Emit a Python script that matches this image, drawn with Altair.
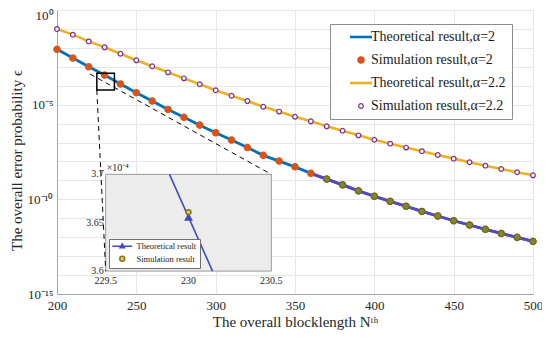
import math
import altair as alt
import pandas as pd

# ---------------- data ----------------
N_VALUES = [200, 210, 220, 230, 240, 250, 260, 270, 280, 290, 300, 310, 320, 330, 340,
            350, 360, 370, 380, 390, 400, 410, 420, 430, 440, 450, 460, 470, 480, 490, 500]

EPS_THEORY_A2 = [8.4e-3, 2.9e-3, 1.0e-3, 3.66e-4, 1.23e-4, 4.3e-5, 1.55e-5, 5.6e-6, 2.14e-6,
                 8.3e-7, 3.3e-7, 1.35e-7, 5.4e-8, 2.1e-8, 1.05e-8, 5.2e-9, 2.35e-9, 1.17e-9,
                 5.8e-10, 2.8e-10, 1.45e-10, 7.8e-11, 4.3e-11, 2.3e-11, 1.32e-11, 7.4e-12,
                 4.4e-12, 2.6e-12, 1.58e-12, 9.8e-13, 6.0e-13]
EPS_SIM_A2 = [8.4e-3, 2.9e-3, 1.0e-3, 3.66e-4, 1.23e-4, 4.3e-5, 1.55e-5, 5.6e-6, 2.14e-6,
              8.3e-7, 3.3e-7, 1.35e-7, 5.4e-8, 2.1e-8, 1.05e-8, 5.2e-9, 2.35e-9, 1.17e-9,
              5.8e-10, 2.8e-10, 1.45e-10, 7.8e-11, 4.3e-11, 2.3e-11, 1.32e-11, 7.4e-12,
              4.4e-12, 2.6e-12, 1.58e-12, 9.8e-13, 6.0e-13]
EPS_THEORY_A22 = [1.0e-1, 5.0e-2, 2.2e-2, 1.07e-2, 4.9e-3, 2.2e-3, 1.07e-3, 5.1e-4, 2.45e-4,
                  1.2e-4, 5.75e-5, 2.95e-5, 1.55e-5, 7.8e-6, 4.3e-6, 2.3e-6, 1.32e-6, 7.2e-7,
                  4.2e-7, 2.4e-7, 1.41e-7, 8.7e-8, 5.4e-8, 3.5e-8, 2.2e-8, 1.41e-8, 9.1e-9,
                  6.0e-9, 4.0e-9, 2.7e-9, 1.86e-9]
EPS_SIM_A22 = [1.0e-1, 5.0e-2, 2.2e-2, 1.07e-2, 4.9e-3, 2.2e-3, 1.07e-3, 5.1e-4, 2.45e-4,
               1.2e-4, 5.75e-5, 2.95e-5, 1.55e-5, 7.8e-6, 4.3e-6, 2.3e-6, 1.32e-6, 7.2e-7,
               4.2e-7, 2.4e-7, 1.41e-7, 8.7e-8, 5.4e-8, 3.5e-8, 2.2e-8, 1.41e-8, 9.1e-9,
               6.0e-9, 4.0e-9, 2.7e-9, 1.86e-9]

SERIES = ["Theoretical result,α=2", "Simulation result,α=2",
          "Theoretical result,α=2.2", "Simulation result,α=2.2"]
LEGEND_TAIL = "\u00a0" * 4   # blank room at the right end of the legend box

# lower curve is redrawn with other colours from these N on
TAIL_LINE_FROM = 360
TAIL_MARK_FROM = 370

X_TICKS = [200, 250, 300, 350, 400, 450, 500]
Y_TICKS = [1e0, 1e-1, 1e-2, 1e-3, 1e-4, 1e-5, 1e-6, 1e-7, 1e-8, 1e-9, 1e-10,
           1e-11, 1e-12, 1e-13, 1e-14, 1e-15]

# zoom rectangle on the main plot (data coordinates)
ZOOM_N = [225.1, 236.2]
ZOOM_EPS = [4.6e-4, 5.9e-5]

# inset placement (main-plot data coordinates of its frame)
INSET_N = [230.7, 335.1]
INSET_EPS = [2.09e-9, 1.62e-14]   # top, bottom
INSET_XDOM = [229.5, 230.5]
INSET_YDOM = [3.6, 3.7]           # x 1e-4

INSET_THEORY_N = [229.885, 230.145]
INSET_THEORY_V = [3.70, 3.60]
INSET_TRI_N = [230.0]
INSET_TRI_V = [3.6555]
INSET_SIM_N = [230.0]
INSET_SIM_V = [3.661]
INSET_SERIES = ["Theoretical result", "Simulation result"]
INSET_XTICKS = [229.5, 230, 230.5]
INSET_XLABELS = ["229.5", "230", "230.5"]
INSET_YTICKS = [3.6, 3.65, 3.7]
INSET_YLABELS = ["3.6", "3.65", "3.7"]

# dashed connector starts (main data coordinates)
CONN_START_N = [220.8, 225.1]
CONN_START_EPS = [4.17e-4, 5.9e-5]

SERIF = "Liberation Serif"


def ix(v):
    return INSET_N[0] + (v - INSET_XDOM[0]) / (INSET_XDOM[1] - INSET_XDOM[0]) * (INSET_N[1] - INSET_N[0])


def iy(v):
    t = (v - INSET_YDOM[0]) / (INSET_YDOM[1] - INSET_YDOM[0])
    lb, lt = math.log10(INSET_EPS[1]), math.log10(INSET_EPS[0])
    return 10 ** (lb + t * (lt - lb))


# ---------------- tables ----------------
LEG = [s + LEGEND_TAIL for s in SERIES]
theory_a2 = pd.DataFrame({"N": N_VALUES, "eps": EPS_THEORY_A2})
theory_a22 = pd.DataFrame({"N": N_VALUES, "eps": EPS_THEORY_A22})
sim = pd.concat([
    pd.DataFrame({"N": N_VALUES, "eps": EPS_SIM_A2, "series": LEG[1]}),
    pd.DataFrame({"N": N_VALUES, "eps": EPS_SIM_A22, "series": LEG[3]}),
])
tail_line = theory_a2[theory_a2.N >= TAIL_LINE_FROM]
tail_mark = pd.DataFrame({"N": N_VALUES, "eps": EPS_SIM_A2})
tail_mark = tail_mark[tail_mark.N >= TAIL_MARK_FROM]

zoom_rect = pd.DataFrame({"N": [ZOOM_N[0]], "N2": [ZOOM_N[1]],
                          "eps": [ZOOM_EPS[0]], "eps2": [ZOOM_EPS[1]]})
inset_bg = pd.DataFrame({"N": [ix(INSET_XDOM[0])], "N2": [ix(INSET_XDOM[1])],
                         "eps": [iy(INSET_YDOM[0])], "eps2": [iy(INSET_YDOM[1])]})
connectors = pd.DataFrame({
    "N": [CONN_START_N[0], ix(INSET_XDOM[1]), CONN_START_N[1], ix(INSET_XDOM[0])],
    "eps": [CONN_START_EPS[0], iy(INSET_YDOM[1]), CONN_START_EPS[1], iy(INSET_YDOM[0])],
    "grp": ["a", "a", "b", "b"],
    "o": [0, 1, 0, 1],
})
inset_line = pd.DataFrame({"N": [ix(v) for v in INSET_THEORY_N],
                           "eps": [iy(v) for v in INSET_THEORY_V]})
inset_tri = pd.DataFrame({"N": [ix(v) for v in INSET_TRI_N],
                          "eps": [iy(v) for v in INSET_TRI_V]})
inset_sim = pd.DataFrame({"N": [ix(v) for v in INSET_SIM_N],
                          "eps": [iy(v) for v in INSET_SIM_V],
                          "iseries": INSET_SERIES[1]})
inset_xlab = pd.DataFrame({"N": [ix(v) for v in INSET_XTICKS],
                           "eps": [iy(INSET_YDOM[0])] * 3, "txt": INSET_XLABELS})
inset_ylab = pd.DataFrame({"N": [ix(INSET_XDOM[0])] * 3,
                           "eps": [iy(v) for v in INSET_YTICKS], "txt": INSET_YLABELS})
inset_mult = pd.DataFrame({"N": [ix(INSET_XDOM[0])], "eps": [iy(INSET_YDOM[1])],
                           "txt": ["×10⁻⁴"]})

# ---------------- encodings ----------------
x_axis = alt.Axis(values=X_TICKS, title="The overall blocklength Nᵗʰ", ticks=False,
                  labelPadding=5, titlePadding=2, labelFlush=False)
y_label_expr = ("round(log(datum.value)/LN10) == 0 ? '10⁰' : "
                "round(log(datum.value)/LN10) == -5 ? '10⁻⁵' : "
                "round(log(datum.value)/LN10) == -10 ? '10⁻¹⁰' : "
                "round(log(datum.value)/LN10) == -15 ? '10⁻¹⁵' : ''")
y_axis = alt.Axis(values=Y_TICKS, labelExpr=y_label_expr, ticks=False,
                  labelOffset={"condition": {"test": "datum.value >= 0.5", "value": 5}, "value": 0},
                  title="The overall error probability ϵ", labelPadding=4, titlePadding=3,
                  titleY=150)


def X():
    return alt.X("N:Q", scale=alt.Scale(domain=[200, 500], nice=False, zero=False), axis=x_axis)


def Y():
    return alt.Y("eps:Q", scale=alt.Scale(type="log", domain=[1e-15, 1]), axis=y_axis)


LINE_PATH = "M-3,0L3,0"
main_legend = alt.Legend(orient="none", legendX=273, legendY=14, title=None,
                         padding=6, rowPadding=9, symbolOffset=18, labelOffset=3,
                         labelFont=SERIF, labelFontSize=14, labelColor="#1a1a1a",
                         strokeColor="#8c8c8c", fillColor="white", labelLimit=300)

dom = LEG
shape_s = alt.Scale(domain=dom, range=[LINE_PATH, "circle", LINE_PATH, "circle"])
stroke_s = alt.Scale(domain=dom, range=["#0072BD", "#D95319", "#EDB120", "#7E2F8E"])
fill_s = alt.Scale(domain=dom, range=["transparent", "#D95319", "transparent", "#ffffff"])
size_s = alt.Scale(type="ordinal", domain=dom, range=[54, 40, 54, 22])
sw_s = alt.Scale(type="ordinal", domain=dom, range=[2.6, 1.2, 2.6, 1.2])

line_a2 = alt.Chart(theory_a2).mark_line(strokeWidth=2.8, color="#0072BD").encode(x=X(), y=Y())
line_a22 = alt.Chart(theory_a22).mark_line(strokeWidth=2.6, color="#EDB120").encode(x=X(), y=Y())
tail_l = alt.Chart(tail_line).mark_line(strokeWidth=2.8, color="#5B45C0").encode(x=X(), y=Y())
points = alt.Chart(sim).mark_point(filled=True, opacity=1).encode(
    x=X(), y=Y(),
    shape=alt.Shape("series:N", scale=shape_s, legend=main_legend),
    stroke=alt.Stroke("series:N", scale=stroke_s, legend=main_legend),
    fill=alt.Fill("series:N", scale=fill_s, legend=main_legend),
    size=alt.Size("series:N", scale=size_s, legend=main_legend),
    strokeWidth=alt.StrokeWidth("series:N", scale=sw_s, legend=main_legend),
)
tail_p = alt.Chart(tail_mark).mark_point(filled=True, opacity=1, fill="#7E8A2A",
                                         stroke="#5E681C", strokeWidth=1, size=40).encode(x=X(), y=Y())
zrect = alt.Chart(zoom_rect).mark_rect(fillOpacity=0, stroke="black", strokeWidth=1.5).encode(
    x=X(), x2="N2:Q", y=Y(), y2="eps2:Q")

# ---------------- inset ----------------
TRI_PATH = "M-5,0L5,0M0,-1.2L1.1,0.8L-1.1,0.8Z"
inset_legend = alt.Legend(orient="none", legendX=52, legendY=229, title=None,
                          padding=3, rowPadding=1.5, symbolOffset=6, labelOffset=10,
                          labelFont=SERIF, labelFontSize=8.5, labelColor="#1a1a1a",
                          strokeColor="#6e6e6e", fillColor="white")
idom = INSET_SERIES
ishape = alt.Scale(domain=idom, range=[TRI_PATH, "circle"])
istroke = alt.Scale(domain=idom, range=["#3F4DBF", "#857A1A"])
ifill = alt.Scale(domain=idom, range=["#3F4DBF", "#E6D264"])
isize = alt.Scale(type="ordinal", domain=idom, range=[16, 24])
isw = alt.Scale(type="ordinal", domain=idom, range=[1.5, 1.5])

ibg = alt.Chart(inset_bg).mark_rect(fill="#ECECEC", stroke="#9B9B9B", strokeWidth=1).encode(
    x=X(), x2="N2:Q", y=Y(), y2="eps2:Q")
conn = alt.Chart(connectors).mark_line(color="black", strokeWidth=1, strokeDash=[5, 4]).encode(
    x=X(), y=Y(), detail="grp:N", order="o:Q")
iline = alt.Chart(inset_line).mark_line(color="#3F4DBF", strokeWidth=1.6).encode(x=X(), y=Y())
itri = alt.Chart(inset_tri).mark_point(shape="triangle-up", filled=True, fill="#3F4DBF",
                                       stroke="#3F4DBF", size=30, opacity=1).encode(x=X(), y=Y())
isim = alt.Chart(inset_sim).mark_point(filled=True, opacity=1).encode(
    x=X(), y=Y(),
    shape=alt.Shape("iseries:N", scale=ishape, legend=inset_legend),
    stroke=alt.Stroke("iseries:N", scale=istroke, legend=inset_legend),
    fill=alt.Fill("iseries:N", scale=ifill, legend=inset_legend),
    size=alt.Size("iseries:N", scale=isize, legend=inset_legend),
    strokeWidth=alt.StrokeWidth("iseries:N", scale=isw, legend=inset_legend),
)
ixl = alt.Chart(inset_xlab).mark_text(font=SERIF, fontSize=10, baseline="top", dy=5,
                                      color="#262626").encode(x=X(), y=Y(), text="txt:N")
iyl = alt.Chart(inset_ylab).mark_text(font=SERIF, fontSize=10, align="right", baseline="middle",
                                      dx=-2, color="#262626").encode(x=X(), y=Y(), text="txt:N")
imult = alt.Chart(inset_mult).mark_text(font=SERIF, fontSize=10, align="left", baseline="bottom",
                                        dx=1, dy=-1, color="#262626").encode(x=X(), y=Y(), text="txt:N")

chart = alt.layer(
    line_a2, line_a22, tail_l, points, tail_p, zrect,
    ibg, conn, iline, itri, isim, ixl, iyl, imult,
).resolve_scale(
    shape="independent", stroke="independent", fill="independent",
    size="independent", strokeWidth="independent",
).properties(
    width=476, height=284, autosize="none",
    padding={"left": 49, "top": 2, "right": 9, "bottom": 36},
    background="white",
).configure_view(stroke="#A6A6A6", strokeWidth=1).configure_axis(
    labelFont=SERIF, labelFontSize=13, labelColor="#262626",
    titleFont=SERIF, titleFontSize=15, titleFontWeight="normal", titleColor="#262626",
    gridColor="#E6E6E6", gridWidth=1, domainColor="#A6A6A6",
).configure_legend(
    labelFont=SERIF,
)

chart.save("out.html", embed_options={"renderer": "svg", "actions": False})
